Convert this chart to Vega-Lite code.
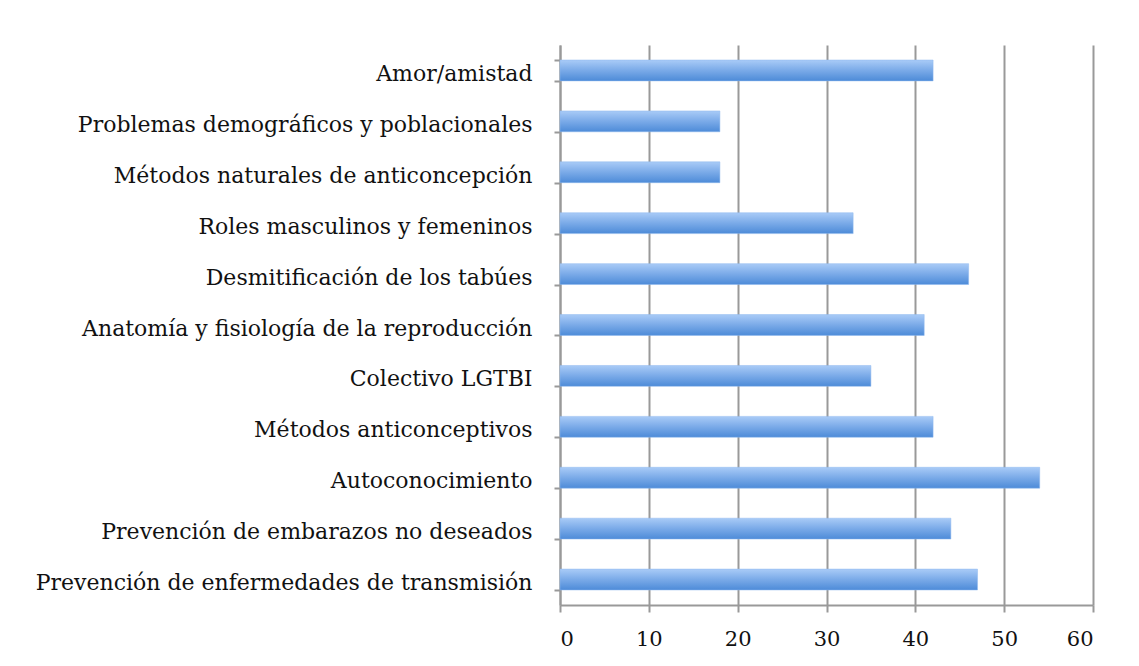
{
  "$schema": "https://vega.github.io/schema/vega-lite/v6.json",
  "width": 533,
  "height": 560,
  "autosize": "none",
  "padding": {"left": 560, "top": 45, "right": 46, "bottom": 61},
  "background": "white",
  "data": {
    "values": [
      {"tema": "Amor/amistad", "valor": 42},
      {"tema": "Problemas demográficos y poblacionales", "valor": 18},
      {"tema": "Métodos naturales de anticoncepción", "valor": 18},
      {"tema": "Roles masculinos y femeninos", "valor": 33},
      {"tema": "Desmitificación de los tabúes", "valor": 46},
      {"tema": "Anatomía y fisiología de la reproducción", "valor": 41},
      {"tema": "Colectivo LGTBI", "valor": 35},
      {"tema": "Métodos anticonceptivos", "valor": 42},
      {"tema": "Autoconocimiento", "valor": 54},
      {"tema": "Prevención de embarazos no deseados", "valor": 44},
      {"tema": "Prevención de enfermedades de transmisión", "valor": 47}
    ]
  },
  "mark": {
    "type": "bar",
    "color": {
      "gradient": "linear",
      "x1": 0, "y1": 0, "x2": 0, "y2": 1,
      "stops": [
        {"offset": 0, "color": "#a9cbf7"},
        {"offset": 0.5, "color": "#7aaae8"},
        {"offset": 1, "color": "#4d8bd8"}
      ]
    },
    "stroke": "#8fb8ee",
    "strokeWidth": 0.5
  },
  "encoding": {
    "y": {
      "field": "tema",
      "type": "nominal",
      "sort": null,
      "title": null,
      "scale": {"paddingInner": 0.59, "paddingOuter": 0.295},
      "axis": {
        "tickBand": "extent",
        "tickSize": 6,
        "tickColor": "#999999",
        "tickWidth": 2,
        "domainColor": "#999999",
        "domainWidth": 2,
        "labelFont": "DejaVu Serif",
        "labelFontSize": 22,
        "labelColor": "#111111",
        "labelPadding": 22,
        "labelOffset": 3,
        "labelLimit": 600,
        "grid": false
      }
    },
    "x": {
      "field": "valor",
      "type": "quantitative",
      "title": null,
      "scale": {"domain": [0, 60], "nice": false},
      "axis": {
        "values": [0, 10, 20, 30, 40, 50, 60],
        "grid": true,
        "gridColor": "#999999",
        "gridWidth": 2,
        "gridOpacity": 1,
        "tickSize": 7,
        "tickColor": "#999999",
        "tickWidth": 2,
        "domainColor": "#999999",
        "domainWidth": 2,
        "labelFont": "DejaVu Serif",
        "labelFontSize": 21,
        "labelColor": "#111111",
        "labelPadding": 16
      }
    }
  },
  "config": {"view": {"stroke": null}}
}
